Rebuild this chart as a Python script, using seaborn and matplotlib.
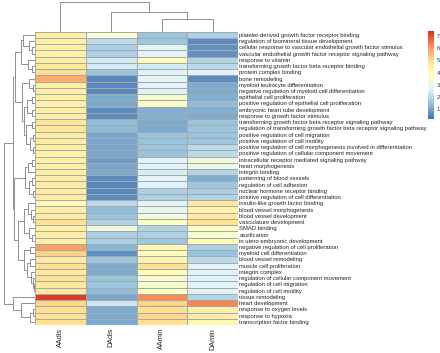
import numpy as np
import pandas as pd
import matplotlib
matplotlib.use('Agg')
import matplotlib.pyplot as plt
from matplotlib.colors import LinearSegmentedColormap
import seaborn as sns

#========================================================================================
# values (rows in the order shown)
samples = ['AAdis', 'DAdis', 'AAmin', 'DAmin']
terms = [
    'platelet-derived growth factor receptor binding',
    'regulation of biomineral tissue development',
    'cellular response to vascular endothelial growth factor stimulus',
    'vascular endothelial growth factor receptor signaling pathway',
    'response to vitamin',
    'transforming growth factor beta receptor binding',
    'protein complex binding',
    'bone remodeling',
    'myeloid leukocyte differentiation',
    'negative regulation of myeloid cell differentiation',
    'epithelial cell proliferation',
    'positive regulation of epithelial cell proliferation',
    'embryonic heart tube development',
    'response to growth factor stimulus',
    'transforming growth factor beta receptor signaling pathway',
    'regulation of transforming growth factor beta receptor signaling pathway',
    'positive regulation of cell migration',
    'positive regulation of cell motility',
    'positive regulation of cell morphogenesis involved in differentiation',
    'positive regulation of cellular component movement',
    'intracellular receptor mediated signaling pathway',
    'heart morphogenesis',
    'integrin binding',
    'patterning of blood vessels',
    'regulation of cell adhesion',
    'nuclear hormone receptor binding',
    'positive regulation of cell differentiation',
    'insulin-like growth factor binding',
    'blood vessel morphogenesis',
    'blood vessel development',
    'vasculature development',
    'SMAD binding',
    'ossification',
    'in utero embryonic development',
    'negative regulation of cell proliferation',
    'myeloid cell differentiation',
    'blood vessel remodeling',
    'muscle cell proliferation',
    'integrin complex',
    'regulation of cellular component movement',
    'regulation of cell migration',
    'regulation of cell motility',
    'tissue remodeling',
    'heart development',
    'response to oxygen levels',
    'response to hypoxia',
    'transcription factor binding',
]
aadis = [4.4, 4.4, 4.4, 4.4, 4.5, 4.7, 5.0, 5.7, 4.4, 4.4, 4.4, 4.4, 4.4, 4.4, 4.8, 4.8,
         4.5, 4.5, 4.4, 4.4, 4.4, 4.4, 4.5, 4.5, 4.5, 4.5, 4.5, 4.0, 4.5, 4.5, 4.9, 4.4,
         4.5, 4.4, 5.9, 5.2, 4.6, 5.0, 4.6, 4.9, 4.7, 4.6, 7.2, 5.1, 5.0, 5.0, 5.0]
dadis = [3.4, 2.1, 1.8, 1.8, 2.4, 2.4, 1.5, 0.5, 0.5, 0.5, 1.1, 1.1, 0.6, 0.6, 1.4, 1.4,
         1.0, 1.0, 1.0, 1.0, 0.9, 1.0, 1.1, 0.6, 0.5, 0.5, 0.6, 2.0, 1.4, 1.5, 1.9, 3.2,
         1.8, 1.8, 1.3, 0.7, 1.5, 1.1, 1.1, 1.5, 1.5, 1.4, 1.0, 2.3, 1.1, 1.1, 1.1]
aamin = [1.5, 1.6, 2.7, 2.7, 4.0, 2.4, 2.6, 2.7, 2.6, 2.6, 3.5, 3.5, 1.2, 1.2, 1.1, 1.1,
         1.5, 1.5, 1.5, 1.5, 2.6, 2.6, 2.5, 2.7, 2.6, 1.8, 1.8, 2.7, 2.8, 3.2, 3.7, 1.9,
         1.8, 1.6, 4.1, 3.9, 4.3, 5.0, 3.9, 3.5, 3.5, 3.8, 6.2, 5.2, 5.0, 5.1, 5.0]
damin = [1.8, 0.6, 0.7, 0.7, 1.9, 2.0, 2.6, 0.6, 1.1, 1.1, 1.2, 1.4, 1.2, 1.1, 1.5, 1.5,
         1.5, 1.6, 2.0, 2.0, 3.2, 3.1, 1.9, 1.2, 1.6, 1.8, 1.9, 4.6, 4.3, 4.6, 4.9, 3.6,
         3.5, 4.0, 1.8, 1.5, 2.0, 2.6, 2.6, 2.6, 2.6, 2.6, 1.9, 6.3, 4.4, 4.4, 4.1]

# dendrogram shapes: leaf = row index, node = (height, left, right)
g1 = (14, (12, 0, (6, 1, (3, 2, 3))), (7, 4, (3, 5, 6)))
g2 = (13, (6, 7, (2, 8, 9)),
      (11, (8, (3, 10, 11), (3, 12, 13)),
       (9, (3, 14, 15), (5, (1.5, 16, 17), (2, 18, 19)))))
g3 = (10, (7, (3, 20, 21), 22), (6, (3, 23, 24), (2, 25, 26)))
g4 = (11, (7, 27, (4, 28, (2, 29, 30))), (6, 31, (3, 32, 33)))
g5 = (11, (5, 34, 35), (8, (5, 36, 37), (4, 38, (2, 39, (1, 40, 41)))))
g6 = (22, 42, (14, 43, (5, (2, 44, 45), 46)))
row_tree = (31, (21.5, (20, g1, g2), (20.5, g3, (17, g4, g5))), g6)
col_tree = (31, 0, (20, 1, (13.3, 2, 3)))


def to_linkage(tree, n):
    rows = []

    def walk(node):
        if isinstance(node, int):
            return node, 1
        h, a, b = node
        ia, na = walk(a)
        ib, nb = walk(b)
        rows.append([ia, ib, h, na + nb])
        return n + len(rows) - 1, na + nb

    walk(tree)
    return np.array(rows, dtype=float)


df = pd.DataFrame({'AAdis': aadis, 'DAdis': dadis, 'AAmin': aamin, 'DAmin': damin},
                  index=terms)[samples]

row_link = to_linkage(row_tree, len(terms))
col_link = to_linkage(col_tree, len(samples))

#========================================================================================
# figure
sns.set_style('white')
plt.rcParams['font.family'] = ['Liberation Sans', 'DejaVu Sans']

pal = ['#4575B4', '#91BFDB', '#E0F3F8', '#FFFFBF', '#FEE090', '#FC8D59', '#D73027']
cmap = LinearSegmentedColormap.from_list('rdylbu7', pal, N=100)

W, H = 440.0, 353.0
g = sns.clustermap(
    df,
    row_linkage=row_link,
    col_linkage=col_link,
    cmap=cmap, vmin=0.2, vmax=7.4,
    linewidths=0.4, linecolor='#a8a8a8',
    xticklabels=True, yticklabels=True,
    figsize=(W / 100, H / 100),
    tree_kws={'colors': '#808080', 'linewidths': 0.6},
    cbar_kws={'ticks': range(1, 8)},
)

# place the pieces like the reference (pixel boxes -> figure fractions)
hm_left, hm_right, hm_top, hm_bot = 35.0, 238.0, 31.7, 325.0
g.ax_heatmap.set_position([hm_left / W, 1 - hm_bot / H, (hm_right - hm_left) / W, (hm_bot - hm_top) / H])
g.ax_row_dendrogram.set_position([2.4 / W, 1 - hm_bot / H, (hm_left - 2.4) / W, (hm_bot - hm_top) / H])
g.ax_col_dendrogram.set_position([hm_left / W, 1 - hm_top / H, (hm_right - hm_left) / W, hm_top / H])
g.ax_cbar.set_position([428 / W, 1 - 119 / H, 6 / W, 88 / H])

ax = g.ax_heatmap
ax.set_xlabel('')
ax.set_ylabel('')
ax.tick_params(axis='y', length=0, pad=1, labelsize=4.2)
ax.tick_params(axis='x', length=0, pad=2, labelsize=5.2)
plt.setp(ax.get_xticklabels(), rotation=90)
plt.setp(ax.get_yticklabels(), rotation=0)
for lab in ax.get_xticklabels() + ax.get_yticklabels():
    lab.set_color('#222222')

cb = ax.collections[0].colorbar
cb.outline.set_visible(False)
g.ax_cbar.tick_params(length=0, pad=2, labelsize=4.2, labelcolor='#333333')

g.figure.savefig('out.png', dpi=100)
